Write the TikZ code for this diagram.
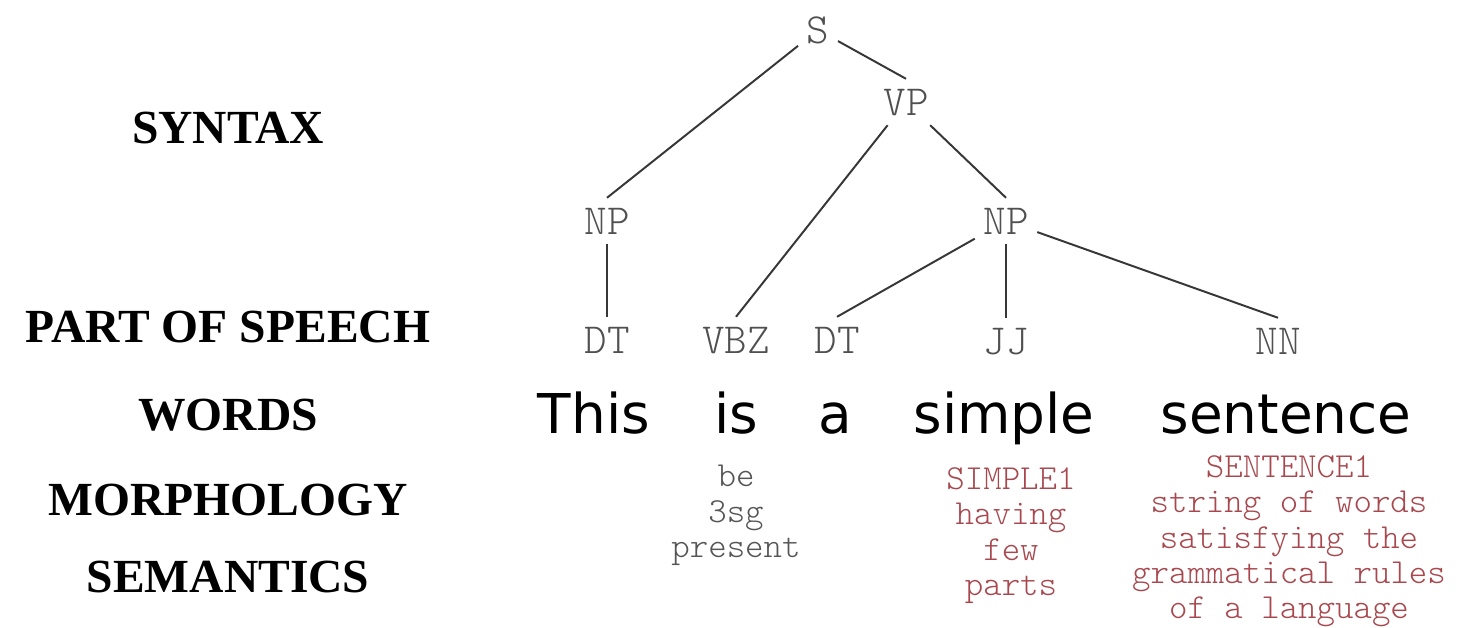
\documentclass[tikz,border=0pt]{standalone}
\usepackage{fontspec}
\newfontfamily\levelfont{Liberation Serif}
\newfontfamily\wordfont{DejaVu Sans}
\newcommand{\tagfont}{\ttfamily\fontseries{l}\selectfont}
\definecolor{tagcol}{RGB}{80,80,80}
\definecolor{branchcol}{RGB}{55,55,55}
\definecolor{morphcol}{RGB}{85,85,85}
\definecolor{sensecol}{RGB}{168,72,78}

\begin{document}
\begin{tikzpicture}[x=0.025cm, y=-0.025cm,
  levelnode/.style={font=\levelfont\bfseries\fontsize{33.8}{36}\selectfont, anchor=base},
  tagnode/.style={font=\tagfont\fontsize{30.5}{32}\selectfont, text=tagcol, text height=18.6pt, text depth=0pt, inner xsep=6pt, inner ysep=7pt},
  wordnode/.style={font=\wordfont\fontsize{39}{42}\selectfont, anchor=base},
  morphnode/.style={font=\tagfont\fontsize{25}{25.2}\selectfont, text=morphcol, align=center, anchor=north, inner sep=0pt},
  sensenode/.style={morphnode, text=sensecol},
  branch/.style={draw=branchcol, line width=1.4pt}]
\useasboundingbox (0,0) rectangle (1463,628);
% level names
\node[levelnode] (syntax) at (228,144) {SYNTAX};
\node[levelnode] (pos) at (228,343) {PART OF SPEECH};
\node[levelnode] (words) at (228,430) {WORDS};
\node[levelnode] (morph) at (228,515) {MORPHOLOGY};
\node[levelnode] (sem) at (228,592) {SEMANTICS};
% parse tree
\node[tagnode] (s) at (818,30) {S};
\node[tagnode] (vp) at (906,102) {VP};
\node[tagnode] (np1) at (607,221) {NP};
\node[tagnode] (np2) at (1006,221) {NP};
\node[tagnode] (dt1) at (607,340) {DT};
\node[tagnode] (vbz) at (736,340) {VBZ};
\node[tagnode] (dt2) at (837,340) {DT};
\node[tagnode] (jj) at (1006,341) {JJ};
\node[tagnode] (nn) at (1278,341) {NN};
\draw[branch] (s) -- (np1.north);
\draw[branch] (s) -- (vp.north);
\draw[branch] (vp) -- (vbz.north);
\draw[branch] (vp) -- (np2.north);
\draw[branch] (np1) -- (dt1.north);
\draw[branch] (np2) -- (dt2.north);
\draw[branch] (np2) -- (jj.north);
\draw[branch] (np2) -- (nn.north);
% words
\node[wordnode] (this) at (594,433) {This};
\node[wordnode] (is) at (736,433) {is};
\node[wordnode] (a) at (835,433) {a};
\node[wordnode] (simple) at (1004,433) {simple};
\node[wordnode] (sentence) at (1286,433) {sentence};
% morphology and senses
\node[morphnode] (gloss) at (736,465) {be\\3sg\\present};
\node[sensenode] (simplesense) at (1011,467) {SIMPLE1\\having\\few\\parts};
\node[sensenode] (sentsense) at (1289,455) {SENTENCE1\\string of words\\satisfying the\\grammatical rules\\of a language};
\end{tikzpicture}
\end{document}
